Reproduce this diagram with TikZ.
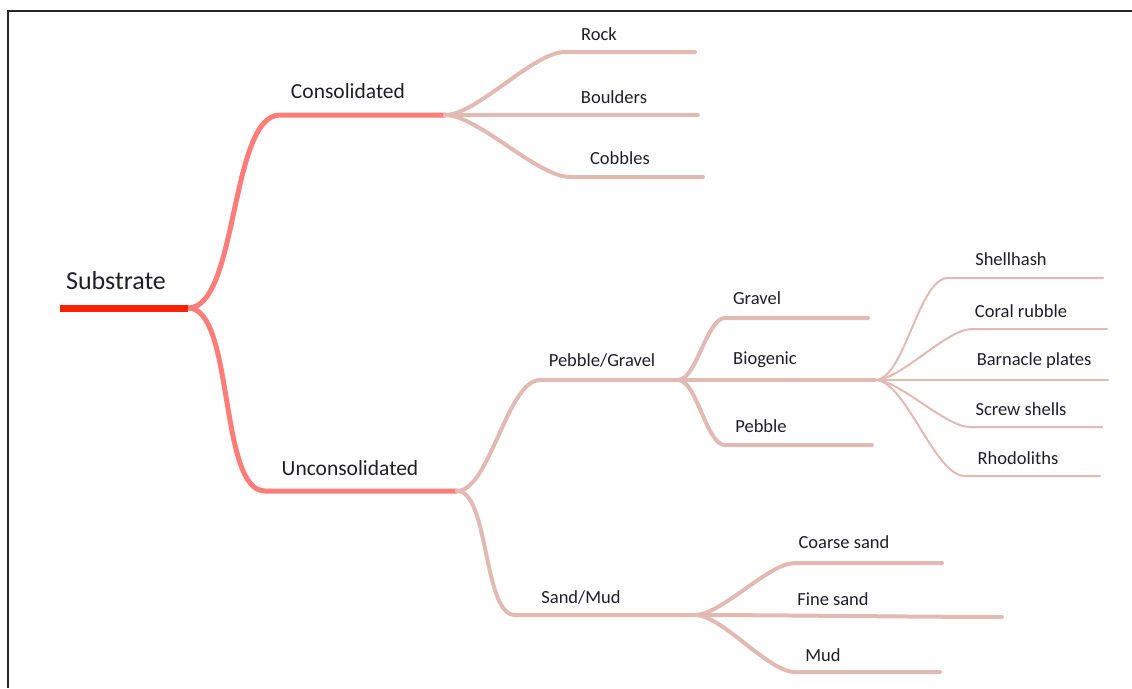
\documentclass[tikz,border=0pt]{standalone}
\usepackage{fontspec}
\setmainfont{Carlito}
\usepackage{xcolor}
\usetikzlibrary{positioning}

\definecolor{rootred}{RGB}{255,32,0}
\definecolor{mainpink}{RGB}{255,125,120}
\definecolor{twigpink}{RGB}{226,186,178}
\definecolor{labelink}{RGB}{30,30,40}

\begin{document}
\begin{tikzpicture}[x=1pt, y=-1pt,
    rootline/.style={line width=7pt, rootred},
    mainline/.style={line width=5pt, mainpink, line cap=round},
    twig/.style={line width=4pt, twigpink, line cap=round},
    leaf/.style={line width=2pt, twigpink, line cap=round},
    scurve/.style={out=0, in=180, looseness=0.6},
    biglabel/.style={text=labelink, font=\fontsize{26}{30}\selectfont, inner sep=0pt},
    midlabel/.style={text=labelink, font=\fontsize{21.5}{26}\selectfont, inner sep=0pt},
    smalllabel/.style={text=labelink, font=\fontsize{18.5}{22}\selectfont, inner sep=0pt}]
    \useasboundingbox (0,0) rectangle (1132,688);

    % Frame (only top and left edges are in view)
    \draw[line width=2pt, black!85] (1132,11) -- (8,11) -- (8,688);

    % Junction points
    \coordinate (root-w) at (60,308);
    \coordinate (root-e) at (188,308);
    \coordinate (con-w) at (280,115);
    \coordinate (con-e) at (445,115);
    \coordinate (unc-w) at (265,491);
    \coordinate (unc-e) at (457,491);
    \coordinate (rock-w) at (565,52);
    \coordinate (rock-e) at (695,52);
    \coordinate (boul-e) at (698,115);
    \coordinate (cob-w) at (570,177);
    \coordinate (cob-e) at (703,177);
    \coordinate (pg-w) at (540,380);
    \coordinate (pg-e) at (678,380);
    \coordinate (sm-w) at (515,615);
    \coordinate (sm-e) at (695,615);
    \coordinate (grav-w) at (725,318);
    \coordinate (grav-e) at (868,318);
    \coordinate (bio-e) at (875,380);
    \coordinate (peb-w) at (725,445);
    \coordinate (peb-e) at (872,445);
    \coordinate (shell-w) at (948,278);
    \coordinate (shell-e) at (1103,278);
    \coordinate (coral-w) at (972,329);
    \coordinate (coral-e) at (1107,329);
    \coordinate (barn-e) at (1108,380);
    \coordinate (screw-w) at (970,427);
    \coordinate (screw-e) at (1102,427);
    \coordinate (rhodo-w) at (965,476);
    \coordinate (rhodo-e) at (1100,476);
    \coordinate (coarse-w) at (795,563);
    \coordinate (coarse-e) at (942,563);
    \coordinate (fine-e) at (1002,617);
    \coordinate (mud-w) at (795,672);
    \coordinate (mud-e) at (940,672);

    % Root and first level
    \draw[mainline] (root-e) to[scurve] (con-w) -- (con-e);
    \draw[mainline] (root-e) to[scurve] (unc-w) -- (unc-e);
    \draw[rootline] (root-w) -- (root-e);

    % Consolidated branch
    \draw[twig] (con-e) to[scurve] (rock-w) -- (rock-e);
    \draw[twig] (con-e) -- (boul-e);
    \draw[twig] (con-e) to[scurve] (cob-w) -- (cob-e);

    % Unconsolidated branch
    \draw[twig] (unc-e) to[scurve] (pg-w) -- (pg-e);
    \draw[twig] (unc-e) to[scurve] (sm-w) -- (sm-e);
    \draw[twig] (pg-e) to[scurve] (grav-w) -- (grav-e);
    \draw[twig] (pg-e) -- (bio-e);
    \draw[twig] (pg-e) to[scurve] (peb-w) -- (peb-e);
    \draw[twig] (sm-e) to[scurve] (coarse-w) -- (coarse-e);
    \draw[twig] (sm-e) to[scurve] (fine-e);
    \draw[twig] (sm-e) to[scurve] (mud-w) -- (mud-e);

    % Biogenic leaves
    \draw[leaf] (bio-e) to[scurve] (shell-w) -- (shell-e);
    \draw[leaf] (bio-e) to[scurve] (coral-w) -- (coral-e);
    \draw[leaf] (bio-e) -- (barn-e);
    \draw[leaf] (bio-e) to[scurve] (screw-w) -- (screw-e);
    \draw[leaf] (bio-e) to[scurve] (rhodo-w) -- (rhodo-e);

    % Labels
    \node[biglabel] (substrate) at (116,281) {Substrate};
    \node[midlabel] (consol) at (348,91) {Consolidated};
    \node[midlabel] (unconsol) at (350,468) {Unconsolidated};
    \node[smalllabel] (rock) at (599,34) {Rock};
    \node[smalllabel] (boulders) at (614,97) {Boulders};
    \node[smalllabel] (cobbles) at (620,158) {Cobbles};
    \node[smalllabel] (pebgrav) at (602,360) {Pebble/Gravel};
    \node[smalllabel] (sandmud) at (581,597) {Sand/Mud};
    \node[smalllabel] (gravel) at (757,298) {Gravel};
    \node[smalllabel] (biogenic) at (765,360) {Biogenic};
    \node[smalllabel] (pebble) at (761,426) {Pebble};
    \node[smalllabel] (shellhash) at (1011,259) {Shellhash};
    \node[smalllabel] (coral) at (1021,311) {Coral rubble};
    \node[smalllabel] (barnacle) at (1034,361) {Barnacle plates};
    \node[smalllabel] (screw) at (1021,409) {Screw shells};
    \node[smalllabel] (rhodo) at (1018,458) {Rhodoliths};
    \node[smalllabel] (coarse) at (844,542) {Coarse sand};
    \node[smalllabel] (fine) at (833,599) {Fine sand};
    \node[smalllabel] (mud) at (823,655) {Mud};
\end{tikzpicture}
\end{document}
